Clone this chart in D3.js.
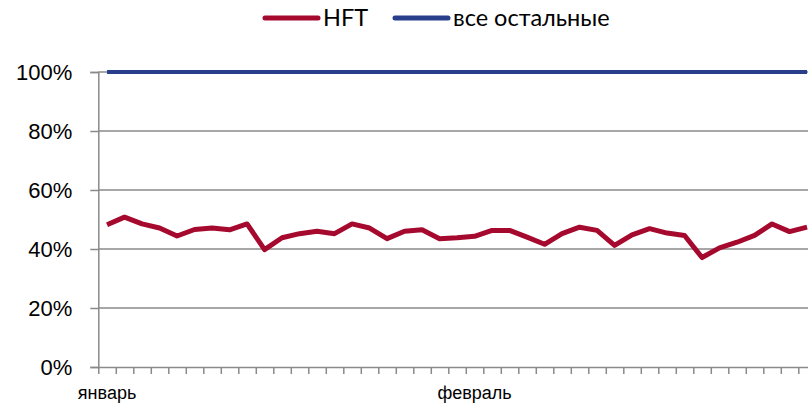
<!DOCTYPE html>
<html>
<head>
<meta charset="utf-8">
<script src="https://cdn.jsdelivr.net/npm/d3@7"></script>
<style>
  body { margin: 0; background: #fff; }
  svg { display: block; font-family: Lato, "Open Sans", sans-serif; }
  .axis path, .axis line { stroke: #8a8a8a; stroke-width: 1.5; }
  .axis text { fill: #000; }
</style>
</head>
<body>
<div id="chart"></div>
<script>
// trading days, Jan..Feb
const monthLabels = ['январь', 'февраль'];
const monthStart = [0, 21];
const yTicks = [0, 20, 40, 60, 80, 100];

const hft = [
  48.2, 50.8, 48.5, 47.1, 44.4, 46.6, 47.1, 46.5, 48.5, 39.8,
  43.8, 45.2, 46.0, 45.2, 48.5, 47.1, 43.5, 46.0, 46.5, 43.5,
  43.8, 44.3, 46.3, 46.3, 44.0, 41.6, 45.2, 47.4, 46.3, 41.2,
  44.8, 46.9, 45.4, 44.6, 37.1, 40.4, 42.3, 44.6, 48.5, 45.9, 47.4
];
const others = [
  100, 100, 100, 100, 100, 100, 100, 100, 100, 100,
  100, 100, 100, 100, 100, 100, 100, 100, 100, 100,
  100, 100, 100, 100, 100, 100, 100, 100, 100, 100,
  100, 100, 100, 100, 100, 100, 100, 100, 100, 100, 100
];

const series = [
  { name: 'HFT', values: hft, color: '#a50a2e' },
  { name: 'все остальные', values: others, color: '#2a3f8c' }
];

const W = 808, H = 404;
const margin = { left: 98.3, top: 72, bottom: 37 };
const step = 17.5;
const n = hft.length;

const svg = d3.select('#chart').append('svg')
  .attr('width', W)
  .attr('height', H);

const x = d3.scaleBand()
  .domain(d3.range(n))
  .range([margin.left, margin.left + step * n]);
const xEdge = d3.scaleLinear()
  .domain([0, n])
  .range([margin.left, margin.left + step * n]);
const y = d3.scaleLinear()
  .domain([0, 100])
  .range([H - margin.bottom, margin.top]);

// gridlines
svg.append('g')
  .selectAll('line')
  .data(yTicks.slice(1))
  .join('line')
  .attr('x1', margin.left)
  .attr('x2', W)
  .attr('y1', d => y(d))
  .attr('y2', d => y(d))
  .attr('stroke', '#8a8a8a')
  .attr('stroke-width', 1.5);

// y axis
const yAxis = svg.append('g')
  .attr('class', 'axis')
  .attr('transform', 'translate(' + margin.left + ',0)')
  .call(d3.axisLeft(y).tickValues(yTicks).tickFormat(d => d + '%').tickSize(8).tickPadding(18));
yAxis.selectAll('text').style('font-size', '22px');

// x axis: tick marks between categories
svg.append('g')
  .attr('class', 'axis')
  .attr('transform', 'translate(0,' + y(0) + ')')
  .call(d3.axisBottom(xEdge).tickValues(d3.range(n + 1)).tickFormat('').tickSize(7).tickSizeOuter(0));

// month labels
const xLabels = svg.append('g')
  .attr('class', 'axis')
  .attr('transform', 'translate(0,' + y(0) + ')')
  .call(d3.axisBottom(x).tickValues(monthStart).tickFormat((d, i) => monthLabels[i]).tickSize(0).tickPadding(0));
xLabels.select('.domain').remove();
xLabels.selectAll('text')
  .style('font-size', '18px')
  .attr('y', null)
  .attr('dy', null)
  .attr('y', 32);

// lines
const line = d3.line()
  .x((d, i) => x(i) + x.bandwidth() / 2)
  .y(d => y(d));

svg.append('g')
  .selectAll('path')
  .data(series.slice().reverse())
  .join('path')
  .attr('d', d => line(d.values))
  .attr('fill', 'none')
  .attr('stroke', d => d.color)
  .attr('stroke-width', d => d.name === 'HFT' ? 5 : 4)
  .attr('stroke-linejoin', 'round');

// legend
const legendX = [265, 395];
const legend = svg.append('g')
  .selectAll('g')
  .data(series)
  .join('g')
  .attr('transform', (d, i) => 'translate(' + legendX[i] + ',18)');
legend.append('line')
  .attr('x1', 0)
  .attr('x2', 53)
  .attr('stroke', d => d.color)
  .attr('stroke-width', 5)
  .attr('stroke-linecap', 'round');
legend.append('text')
  .attr('x', 58)
  .attr('dy', '0.35em')
  .style('font-size', '23.5px')
  .text(d => d.name);
</script>
</body>
</html>
